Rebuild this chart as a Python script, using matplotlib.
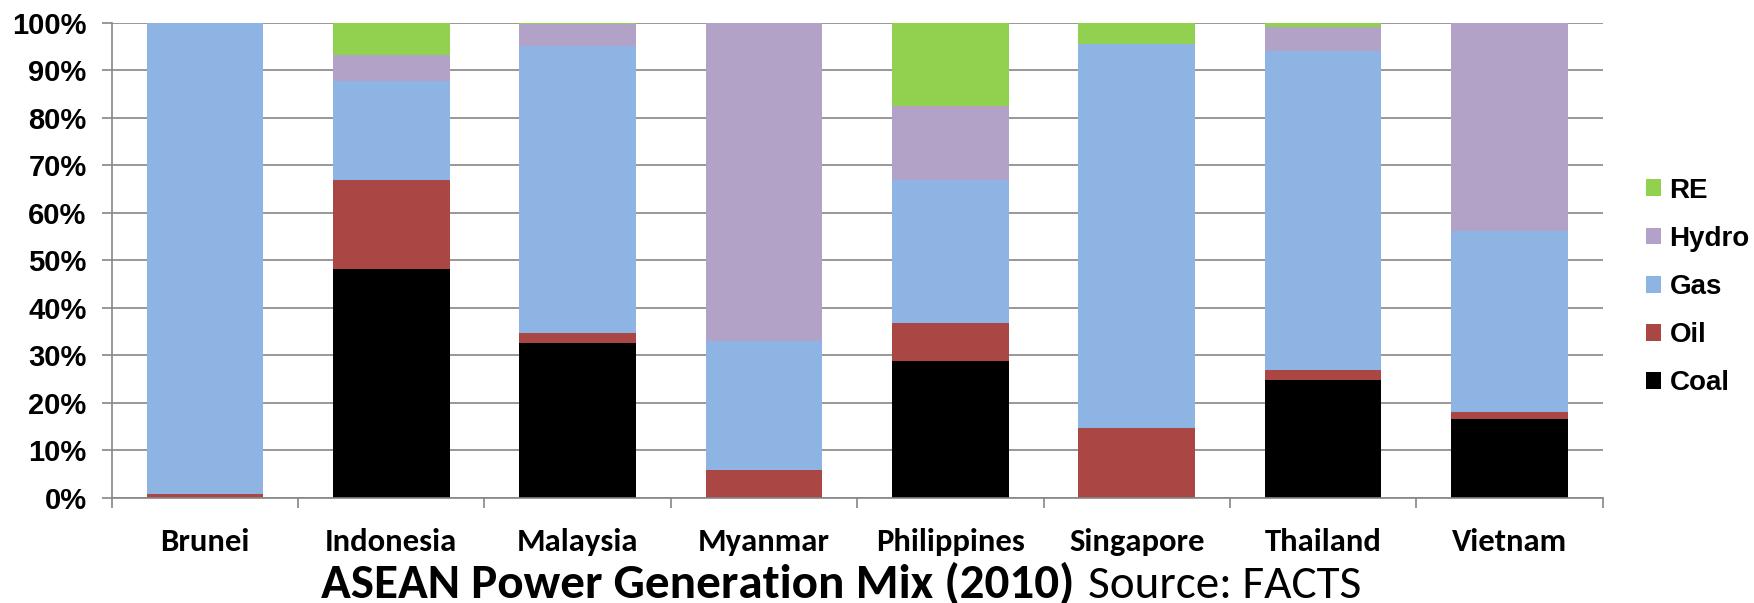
import matplotlib.pyplot as plt
import numpy as np
from matplotlib import font_manager
from matplotlib.patches import Patch
from matplotlib.ticker import FixedLocator

countries = ["Brunei", "Indonesia", "Malaysia", "Myanmar", "Philippines",
             "Singapore", "Thailand", "Vietnam"]

# share of generation, %
coal = [0.0, 48.1, 32.5, 0.0, 28.8, 0.0, 24.8, 16.6]
oil = [0.8, 18.8, 2.2, 5.8, 8.0, 14.6, 2.1, 1.4]
gas = [99.2, 20.8, 60.3, 27.1, 30.1, 81.0, 67.1, 38.1]
hydro = [0.0, 5.4, 4.7, 67.1, 15.5, 0.0, 5.0, 43.9]
re = [0.0, 6.9, 0.3, 0.0, 17.6, 4.4, 1.0, 0.0]

series = [("Coal", coal, "#000000"),
          ("Oil", oil, "#AA4643"),
          ("Gas", gas, "#8EB4E3"),
          ("Hydro", hydro, "#B3A2C7"),
          ("RE", re, "#92D050")]

y_ticks = list(range(0, 101, 10))
y_labels = [f"{v}%" for v in y_ticks]

# condensed face for category labels and the caption, sized per family
installed = {f.name for f in font_manager.fontManager.ttflist}
narrow = "DejaVu Sans"
label_size, title_size, source_size = 17, 28, 27
for name, ls, ts, ss in [("Carlito", 23.5, 35.4, 34), ("Liberation Sans Narrow", 22, 33, 32)]:
    if name in installed:
        narrow, label_size, title_size, source_size = name, ls, ts, ss
        break

arial = ["Liberation Sans", "DejaVu Sans"]
grid_color = "#868686"

fig = plt.figure(figsize=(17.54, 6.03), dpi=100)
ax = fig.add_axes([0.0637, 0.1746, 0.85, 0.7878])

x = np.arange(len(countries))
bottom = np.zeros(len(countries))
for name, vals, color in series:
    ax.bar(x, vals, width=0.625, bottom=bottom, color=color, linewidth=0, zorder=2)
    bottom += np.array(vals)

ax.set_xlim(-0.5, len(countries) - 0.5)
ax.set_ylim(0, 100)

ax.set_yticks(y_ticks)
ax.set_yticklabels(y_labels, fontsize=21, fontweight="bold", family=arial)
ax.tick_params(axis="y", length=7, width=1.2, color=grid_color, pad=11)

ax.set_xticks(x)
ax.set_xticklabels(countries, fontsize=label_size, fontweight="bold", family=narrow)
ax.tick_params(axis="x", which="major", length=0, pad=22)
ax.xaxis.set_minor_locator(FixedLocator(np.arange(-0.5, len(countries), 1.0)))
ax.tick_params(axis="x", which="minor", length=7, width=1.2, color=grid_color)

ax.yaxis.grid(True, color=grid_color, linewidth=1.2, zorder=1)
ax.set_axisbelow(True)
for side in ["top", "right"]:
    ax.spines[side].set_visible(False)
for side in ["left", "bottom"]:
    ax.spines[side].set_color(grid_color)
    ax.spines[side].set_linewidth(1.2)

handles = [Patch(facecolor=c, edgecolor="none", label=n) for n, _, c in reversed(series)]
fig.legend(handles=handles, loc="center left", bbox_to_anchor=(0.9384, 0.524),
           frameon=False, borderpad=0, borderaxespad=0, handlelength=0.55,
           handleheight=0.55, handletextpad=0.3, labelspacing=0.8,
           prop={"family": arial, "weight": "bold", "size": 20})

fig.text(0.183, 0.0083, "ASEAN Power Generation Mix (2010)", ha="left", va="baseline",
         fontsize=title_size, fontweight="bold", family=narrow)
fig.text(0.6203, 0.0083, "Source: FACTS", ha="left", va="baseline",
         fontsize=source_size, family=narrow)

fig.savefig("out.png", dpi=100)
